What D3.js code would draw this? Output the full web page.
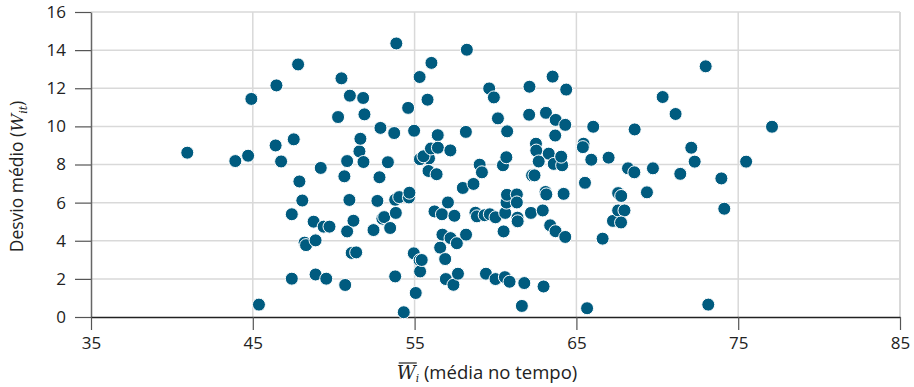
<!DOCTYPE html>
<html>
<head>
<meta charset="utf-8">
<script src="https://cdn.jsdelivr.net/npm/d3@7"></script>
<style>
  html, body { margin: 0; padding: 0; background: #fff; }
  svg { display: block; font-family: "Open Sans", "Noto Sans", sans-serif; }
</style>
</head>
<body>
<div id="chart"></div>
<script>
// média no tempo (x) e desvio médio (y)
const mediaTempo = [
  40.95, 43.92, 44.71, 44.91, 45.38, 46.46, 46.41, 46.75, 47.41, 47.41,
  47.53, 47.80, 47.88, 48.06, 48.20, 48.29, 48.76, 48.88, 48.88, 49.20,
  49.38, 49.74, 49.54, 50.27, 50.48, 50.71, 50.66, 50.83, 50.83, 51.00,
  50.97, 51.11, 51.39, 51.22, 51.59, 51.82, 51.65, 51.90, 51.84, 52.46,
  52.70, 52.89, 52.83, 53.01, 53.12, 53.74, 53.49, 53.35, 53.80, 53.84,
  53.87, 53.80, 54.05, 54.33, 54.60, 54.65, 54.68, 54.97, 54.95, 55.07,
  55.31, 55.31, 55.33, 55.34, 55.44, 55.80, 56.04, 55.89, 55.55, 56.01,
  55.86, 56.23, 56.36, 56.43, 56.44, 56.69, 56.58, 56.72, 56.89, 57.06,
  56.93, 57.22, 57.21, 57.40, 57.46, 57.68, 57.61, 57.98, 58.18, 58.17,
  58.23, 58.64, 58.76, 58.85, 59.02, 59.16, 59.33, 59.41, 59.61, 59.65,
  59.90, 60.00, 60.00, 60.60, 60.15, 60.46, 60.50, 60.67, 60.58, 60.68,
  60.71, 60.72, 60.87, 61.32, 61.32, 61.36, 61.37, 61.78, 61.63, 62.10,
  62.08, 62.19, 62.26, 62.41, 62.50, 62.52, 63.29, 62.67, 62.92, 62.97,
  63.09, 63.14, 63.12, 63.38, 63.53, 63.69, 63.72, 63.60, 63.71, 64.12,
  64.06, 64.31, 64.21, 64.31, 64.37, 65.44, 65.40, 65.53, 65.66, 65.92,
  66.04, 66.62, 66.99, 67.26, 67.58, 67.77, 67.58, 67.97, 67.76, 68.19,
  68.60, 68.58, 69.36, 69.73, 70.33, 71.13, 71.42, 72.10, 72.31, 72.99,
  73.15, 73.96, 74.14, 75.49, 77.09
];
const desvioMedio = [
  8.62, 8.18, 8.46, 11.44, 0.65, 12.15, 9.00, 8.16, 5.39, 2.01,
  9.32, 13.25, 7.11, 6.11, 3.90, 3.77, 5.00, 4.02, 2.23, 7.82,
  4.74, 4.74, 2.01, 10.49, 12.52, 1.68, 7.38, 8.18, 4.49, 11.61,
  6.14, 3.36, 3.39, 5.05, 8.69, 11.49, 9.35, 10.63, 8.13, 4.56,
  6.09, 9.92, 7.33, 5.16, 5.24, 9.65, 4.67, 8.12, 6.15, 5.46,
  14.35, 2.13, 6.29, 0.25, 10.97, 6.27, 6.52, 9.77, 3.34, 1.26,
  2.98, 12.59, 8.28, 2.39, 2.99, 11.40, 13.33, 8.32, 8.43, 8.84,
  7.66, 5.54, 7.49, 9.54, 8.88, 5.39, 3.64, 4.32, 3.04, 6.01,
  1.99, 4.14, 8.74, 1.69, 5.31, 2.27, 3.87, 6.77, 4.32, 9.71,
  14.02, 6.98, 5.47, 5.28, 7.99, 7.59, 5.34, 2.27, 11.99, 5.39,
  11.52, 5.23, 1.99, 5.46, 10.42, 7.96, 4.49, 8.38, 2.09, 6.00,
  6.41, 9.74, 1.85, 6.43, 6.01, 5.21, 5.02, 1.78, 0.58, 12.08,
  10.61, 5.46, 7.43, 7.43, 9.09, 8.73, 8.57, 8.16, 5.59, 1.60,
  6.56, 6.43, 10.71, 4.81, 12.61, 9.52, 10.34, 8.03, 4.50, 7.96,
  8.41, 4.20, 6.46, 10.08, 11.93, 9.09, 8.91, 7.04, 0.46, 8.25,
  9.98, 4.11, 8.36, 5.04, 6.50, 6.35, 5.59, 5.59, 4.96, 7.80,
  9.84, 7.59, 6.54, 7.80, 11.54, 10.65, 7.51, 8.88, 8.15, 13.15,
  0.65, 7.27, 5.68, 8.15, 9.98
];
const xTicks = [35, 45, 55, 65, 75, 85];
const yTicks = [0, 2, 4, 6, 8, 10, 12, 14, 16];

const width = 914, height = 387;
const margin = { top: 12, right: 14, bottom: 70, left: 91 };

const x = d3.scaleLinear().domain([35, 85]).range([margin.left, width - margin.right]);
const y = d3.scaleLinear().domain([0, 16]).range([height - margin.bottom, margin.top]);

const svg = d3.select("#chart").append("svg")
    .attr("width", width)
    .attr("height", height)
    .attr("viewBox", [0, 0, width, height]);

// grade
svg.append("g")
    .selectAll("line")
    .data(yTicks.filter(d => d > 0))
    .join("line")
    .attr("x1", x(35)).attr("x2", x(85))
    .attr("y1", d => y(d)).attr("y2", d => y(d))
    .attr("stroke", "#d9d9d9")
    .attr("stroke-width", 1.5);

svg.append("g")
    .selectAll("line")
    .data(xTicks.filter(d => d > 35))
    .join("line")
    .attr("x1", d => x(d)).attr("x2", d => x(d))
    .attr("y1", y(0)).attr("y2", y(16))
    .attr("stroke", "#d9d9d9")
    .attr("stroke-width", d => d === 85 ? 2 : 1.5);

// eixos
const gy = svg.append("g")
    .attr("transform", `translate(${margin.left},0)`)
    .call(d3.axisLeft(y).tickValues(yTicks).tickSize(16).tickPadding(9).tickSizeOuter(0));
gy.select(".domain").attr("stroke", "#666").attr("stroke-width", 1.5);
gy.selectAll(".tick line").attr("stroke", "#555").attr("stroke-width", 1.2);
gy.selectAll(".tick text").attr("font-size", 17).attr("fill", "#222").attr("font-family", "Open Sans, sans-serif");

const gx = svg.append("g")
    .attr("transform", `translate(0,${y(0)})`)
    .call(d3.axisBottom(x).tickValues(xTicks).tickSize(13).tickPadding(7).tickSizeOuter(0));
gx.select(".domain").attr("stroke", "#222").attr("stroke-width", 1.5);
gx.selectAll(".tick line").attr("stroke", "#555").attr("stroke-width", 1.2);
gx.selectAll(".tick text").attr("font-size", 17).attr("fill", "#222").attr("font-family", "Open Sans, sans-serif");

// pontos
svg.append("g")
    .selectAll("circle")
    .data(d3.range(mediaTempo.length))
    .join("circle")
    .attr("cx", i => x(mediaTempo[i]))
    .attr("cy", i => y(desvioMedio[i]))
    .attr("r", 6.5)
    .attr("fill", "#005b7f")
    .attr("stroke", "#fff")
    .attr("stroke-width", 1);

// título eixo y
const ty = svg.append("text")
    .attr("transform", `translate(23,${(y(0) + y(16)) / 2 + 12}) rotate(-90)`)
    .attr("text-anchor", "middle")
    .attr("font-size", 17.5)
    .attr("fill", "#222");
ty.append("tspan").text("Desvio médio (");
ty.append("tspan").attr("font-family", "DejaVu Serif, serif").attr("font-style", "italic").text("W");
ty.append("tspan").attr("font-family", "DejaVu Serif, serif").attr("font-style", "italic")
    .attr("font-size", 11).attr("dy", 4).text("it");
ty.append("tspan").attr("dy", -4).text(")");

// título eixo x
const tx = svg.append("text")
    .attr("x", 487)
    .attr("y", 379)
    .attr("text-anchor", "middle")
    .attr("font-size", 18.5)
    .attr("fill", "#222");
tx.append("tspan").attr("font-family", "DejaVu Serif, serif").attr("font-style", "italic").text("W");
tx.append("tspan").attr("font-family", "DejaVu Serif, serif").attr("font-style", "italic")
    .attr("font-size", 10.5).attr("dy", 3).text("i");
tx.append("tspan").attr("dy", -3).text(" (média no tempo)");

// barra sobre o W
const wBox = tx.node().getExtentOfChar(0);
svg.append("line")
    .attr("x1", wBox.x + 2).attr("x2", wBox.x + wBox.width + 1)
    .attr("y1", wBox.y + 1).attr("y2", wBox.y + 1)
    .attr("stroke", "#222")
    .attr("stroke-width", 1.2);
</script>
</body>
</html>
